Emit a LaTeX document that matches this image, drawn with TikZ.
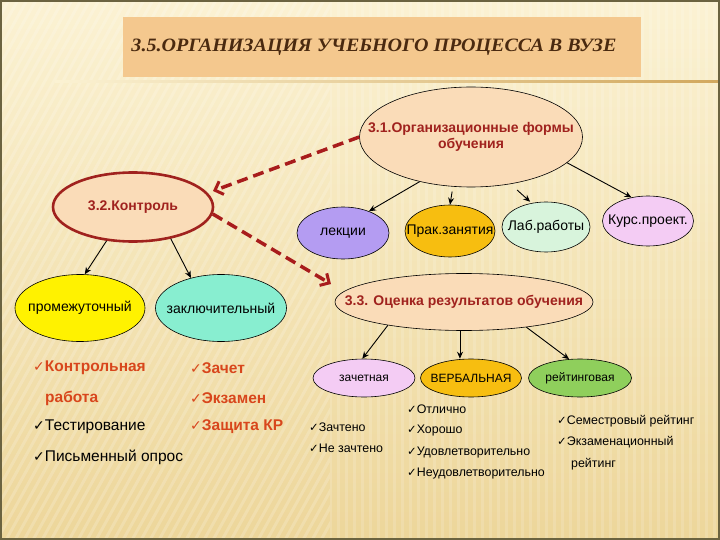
\documentclass[tikz,border=0pt]{standalone}
\usepackage{fontspec}
\setmainfont{Liberation Sans}
\newfontfamily\titlefont{Liberation Serif}
\newfontfamily\ckfont{DejaVu Sans}
\usetikzlibrary{shapes.geometric,arrows.meta,calc}
\definecolor{bgtop}{HTML}{FBF2D3}
\definecolor{bgbot}{HTML}{EDD69A}
\definecolor{framecol}{HTML}{6B6340}
\definecolor{rulecol}{HTML}{D2A85E}
\definecolor{titlefill}{HTML}{F4C88E}
\definecolor{titletext}{HTML}{4A2A10}
\definecolor{peach}{HTML}{FADCB8}
\definecolor{tred}{HTML}{A0221E}
\definecolor{dashred}{HTML}{A81C1C}
\definecolor{lav}{HTML}{B49CF2}
\definecolor{gold}{HTML}{F7BE10}
\definecolor{mint}{HTML}{D8F4DC}
\definecolor{pinkv}{HTML}{F4CCF4}
\definecolor{yel}{HTML}{FFF200}
\definecolor{aqua}{HTML}{88EED0}
\definecolor{grn}{HTML}{8FCF5C}
\definecolor{orred}{HTML}{D8461C}
\newcommand\zw[1]{\makebox[0pt]{#1}}
\newcommand\ckm[1]{{\ckfont\fontsize{#1}{#1}\selectfont ✓}}
\begin{document}
\begin{tikzpicture}[x=1pt,y=-1pt,
  ell/.style={ellipse, draw=black, line width=0.6pt, inner sep=0pt, align=center},
  arr/.style={draw=black, line width=0.9pt, -{Stealth[length=7pt,width=6pt]}},
  darr/.style={draw=dashred, line width=3.5pt, dash pattern=on 11pt off 6pt,
     -{Straight Barb[length=7pt,width=14pt,line width=3pt]}},
  big/.style={anchor=west, inner sep=0pt, font=\fontsize{15.5pt}{17pt}\selectfont},
  bigb/.style={big, text=orred, font=\bfseries\fontsize{15.5pt}{17pt}\selectfont},
  small/.style={anchor=west, inner sep=0pt, font=\fontsize{12.4pt}{14pt}\selectfont},
  hd/.style={text=tred, font=\bfseries\fontsize{14pt}{15.5pt}\selectfont},
  lbl/.style={font=\fontsize{14pt}{15pt}\selectfont},
  lbls/.style={font=\fontsize{12pt}{14pt}\selectfont}
]
\useasboundingbox (0,0) rectangle (720,540);
\shade[top color=bgtop, bottom color=bgbot] (0,0) rectangle (720,540);
\begin{scope}
  \clip (0,0) rectangle (330,540);
  \foreach \i in {0,9,...,900} {
    \draw[white, opacity=0.18, line width=3pt] (\i-300,540) -- (\i,0);
  }
\end{scope}
\begin{scope}
  \clip (330,0) rectangle (720,540);
  \foreach \i in {330,338,...,720} {
    \draw[white, opacity=0.15, line width=3pt] (\i,0) -- (\i,540);
  }
\end{scope}
\shade[left color=bgtop, right color=rulecol] (55,81) rectangle (720,82.5);
\draw[framecol, line width=2pt] (1,1) rectangle (719,539);

% title
\node[fill=titlefill, minimum width=518pt, minimum height=60pt, inner sep=0pt] (title) at (382,47)
  {\hspace*{-16pt}\resizebox{485pt}{12.5pt}{\titlefont\bfseries\itshape\color{titletext}3.5.ОРГАНИЗАЦИЯ УЧЕБНОГО ПРОЦЕССА В ВУЗЕ}};

% main ellipses
\node[ell, fill=peach, minimum width=223pt, minimum height=100pt, hd] (o31) at (471,137)
  {\zw{3.1.Организационные формы}\\\zw{обучения}};
\node[ell, draw=tred, line width=2.6pt, fill=peach, minimum width=160pt, minimum height=69pt, hd] (o32) at (133,207)
  {\zw{3.2.Контроль}};
\node[ell, fill=peach, minimum width=258pt, minimum height=57pt, hd] (o33) at (464,302)
  {\zw{3.3. Оценка результатов обучения}};

% forms
\node[ell, fill=lav, minimum width=92pt, minimum height=52pt, lbl] (lek) at (343,233) {\zw{лекции}};
\node[ell, fill=gold, minimum width=90pt, minimum height=52pt, lbl] (prak) at (450,231) {\zw{Прак.занятия}};
\node[ell, fill=mint, minimum width=88pt, minimum height=50pt, lbl] (lab) at (546,227) {\zw{Лаб.работы}};
\node[ell, fill=pinkv, minimum width=91pt, minimum height=50pt, lbl] (kurs) at (648,221) {\zw{Курс.проект.}};

% control
\node[ell, fill=yel, minimum width=130pt, minimum height=67pt, lbl] (prom) at (80,308) {\zw{промежуточный}};
\node[ell, fill=aqua, minimum width=131pt, minimum height=67pt, lbl] (zak) at (221,308) {\zw{заключительный}};

% assessment
\node[ell, fill=pinkv, minimum width=102pt, minimum height=38pt, lbls] (zach) at (364,378) {\zw{зачетная}};
\node[ell, fill=gold, minimum width=101pt, minimum height=38pt, lbls] (verb) at (471,378) {\zw{ВЕРБАЛЬНАЯ}};
\node[ell, fill=grn, minimum width=103pt, minimum height=38pt, lbls] (reit) at (580,378) {\zw{рейтинговая}};

% dashed arrows
\coordinate (d1) at (213,191);
\coordinate (d2) at (331,284);
\draw[darr] (o31.west) -- (d1);
\draw[darr] (o32.-5) -- (d2);

% black arrows
\draw[arr] (o31.221) -- (lek.40);
\draw[arr, shorten <=5pt] (o31.250) -- (prak.north);
\draw[arr, shorten <=9pt, shorten >=2pt] (o31.-50) -- (lab.121);
\draw[arr] (o31.-15) -- (kurs.125);
\draw[arr] (o32.232) -- (prom.82);
\draw[arr] (o32.-40) -- (zak.135);
\draw[arr] (o33.197) -- (zach.95);
\draw[arr] (o33.262) -- (o33.262 |- verb.north);
\draw[arr] (o33.-22) -- (reit.120);

% left lists
\node[bigb] (l1) at (33,368) {\ckm{14pt}Контрольная};
\node[bigb] (l2) at (45,398) {работа};
\node[big] (l3) at (33,427) {\ckm{14pt}Тестирование};
\node[big] (l4) at (33,457) {\ckm{14pt}Письменный опрос};
\node[bigb] (r1) at (190,368) {\ckm{14pt}Зачет};
\node[bigb] (r2) at (190,398) {\ckm{14pt}Экзамен};
\node[bigb] (r3) at (190,427) {\ckm{14pt}Защита КР};

% small lists
\node[small] (z1) at (309,427) {\ckm{11.5pt}Зачтено};
\node[small] (z2) at (309,448) {\ckm{11.5pt}Не зачтено};
\node[small] (v1) at (407,409) {\ckm{11.5pt}Отлично};
\node[small] (v2) at (407,431) {\ckm{11.5pt}Хорошо};
\node[small] (v3) at (407,453) {\ckm{11.5pt}Удовлетворительно};
\node[small] (v4) at (407,474) {\ckm{11.5pt}Неудовлетворительно};
\node[small] (s1) at (557,421) {\ckm{11.5pt}Семестровый рейтинг};
\node[small] (s2) at (557,442) {\ckm{11.5pt}Экзаменационный};
\node[small] (s3) at (571,464) {рейтинг};
\end{tikzpicture}
\end{document}
